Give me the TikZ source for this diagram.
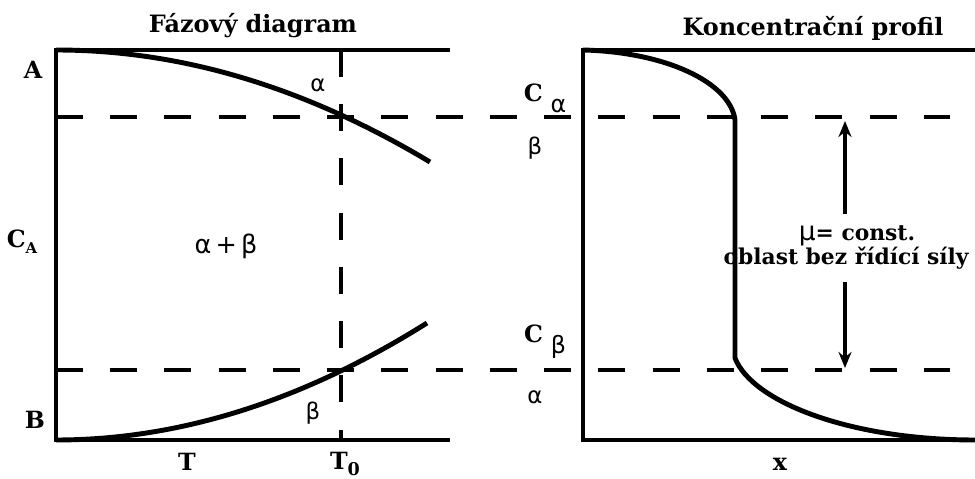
\documentclass[tikz,border=0pt]{standalone}
\usepackage{fontspec}
\setmainfont{DejaVu Serif}
\newfontfamily\grk{DejaVu Sans}
\usetikzlibrary{arrows.meta}

\begin{document}
\begin{tikzpicture}[x=0.02cm,y=-0.02cm,
  axis/.style={line width=2.8pt,line join=miter},
  curve/.style={line width=2.8pt},
  dashline/.style={line width=2.4pt,dash pattern=on 0.54cm off 0.545cm},
  lbl/.style={font=\bfseries\fontsize{13.5}{16}\selectfont,inner sep=0pt},
  ttl/.style={font=\bfseries\fontsize{13.6}{16}\selectfont,inner sep=0pt},
  gr/.style={font=\grk\fontsize{13}{15}\selectfont,inner sep=0pt},
  note/.style={font=\bfseries\fontsize{12.4}{14}\selectfont,inner sep=0pt},
  arr/.style={{Stealth[length=3.2mm,width=2.6mm]}-,line width=2pt}
]
\useasboundingbox (0,0) rectangle (975,479);

\coordinate (a1) at (56,50);
\coordinate (b1) at (56,440);
\coordinate (te) at (450,50);
\coordinate (be) at (450,440);
\coordinate (a2) at (583,50);
\coordinate (b2) at (583,440);
\coordinate (te2) at (975,50);
\coordinate (be2) at (975,440);
\coordinate (jump1) at (735,120);
\coordinate (jump2) at (735,358);
\coordinate (atop) at (845,121);
\coordinate (abot) at (845,368);

\node[ttl] (title1) at (253,26) {Fázový diagram};
\node[ttl] (title2) at (813,28) {Koncentrační profil};

\draw[axis] (te) -- (a1) -- (b1) -- (be);
\draw[axis] (te2) -- (a2) -- (b2) -- (be2);

\draw[dashline] (56,117) -- (950,117);
\draw[dashline] (56,370) -- (950,370);
\draw[dashline] (341,50) -- (341,440);

\draw[curve] (a1) .. controls (181,50) and (305,87) .. (430,162);
\draw[curve] (b1) .. controls (179,440) and (303,401) .. (427,323);

\draw[curve] (a2) .. controls (665,52) and (730,82) .. (jump1) -- (jump2)
  .. controls (752,402) and (850,440) .. (be2);

\node[lbl] (lA) at (33,70) {A};
\node[lbl] (lB) at (35,420) {B};
\node[lbl] (lC) at (22,242) {C\raisebox{-0.5ex}{\fontsize{8.5}{9}\selectfont A}};
\node[lbl] (lT) at (187,462) {T};
\node[lbl] (lT0) at (345,464) {T\raisebox{-0.55ex}{\fontsize{10}{11}\selectfont 0}};
\node[gr] (alpha1) at (318,85) {α};
\node[gr] (beta1) at (313,413) {β};
\node[gr,font=\grk\fontsize{14.5}{16}\selectfont] (mix) at (226,246) {α\,+\,β};

\node[lbl] (Ca) at (545,98) {C\,\,\raisebox{-0.9ex}{\grk\mdseries α}};
\node[gr] (beta2) at (535,148) {β};
\node[lbl] (Cb) at (545,342) {C\,\,\raisebox{-0.9ex}{\grk\mdseries β}};
\node[gr] (alpha2) at (535,397) {α};
\node[lbl] (lx) at (780,464) {x};

\node[note,anchor=base] (mu) at (857,241)
  {{\grk\mdseries\fontsize{15}{14}\selectfont μ}= const.};
\node[note,anchor=base east] (oblast) at (969,265) {oblast bez řídící síly};
\draw[arr] (atop) -- ([yshift=7pt]mu.north -| atop);
\draw[arr] (abot) -- ([yshift=-7pt]oblast.south -| abot);
\end{tikzpicture}
\end{document}
